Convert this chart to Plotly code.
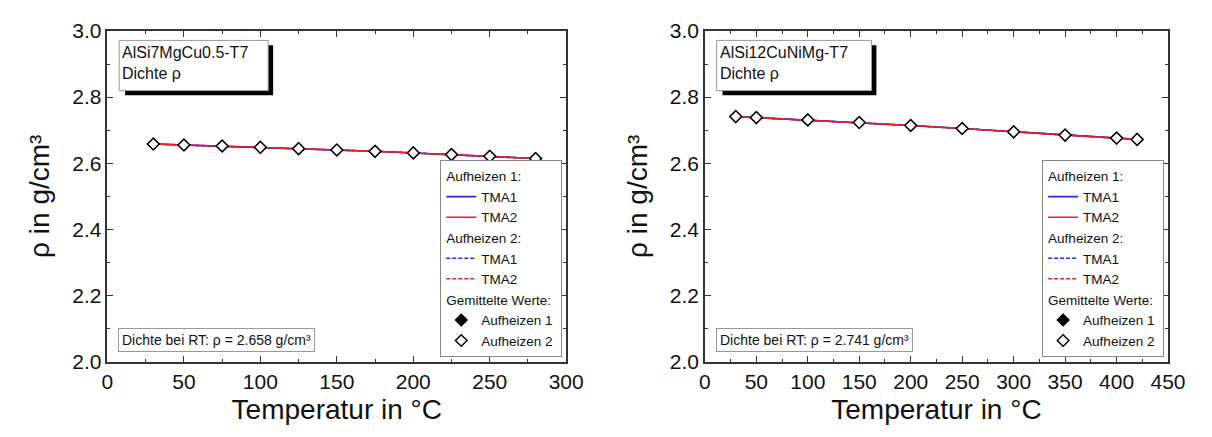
import plotly.graph_objects as go

# Temperature / density values, alloy AlSi7MgCu0.5-T7
temp_a = [30, 50, 75, 100, 125, 150, 175, 200, 225, 250, 280]
rho_a_tma1 = [2.658, 2.655, 2.652, 2.648, 2.644, 2.640, 2.636, 2.631, 2.626, 2.621, 2.614]
rho_a_tma2 = [2.658, 2.655, 2.652, 2.648, 2.644, 2.640, 2.636, 2.631, 2.626, 2.621, 2.614]
rho_a_mean = [2.658, 2.655, 2.652, 2.648, 2.644, 2.640, 2.636, 2.631, 2.626, 2.621, 2.614]

# Temperature / density values, alloy AlSi12CuNiMg-T7
temp_b = [30, 50, 100, 150, 200, 250, 300, 350, 400, 420]
rho_b_tma1 = [2.741, 2.738, 2.731, 2.723, 2.714, 2.705, 2.695, 2.685, 2.676, 2.672]
rho_b_tma2 = [2.741, 2.738, 2.731, 2.723, 2.714, 2.705, 2.695, 2.685, 2.676, 2.672]
rho_b_mean = [2.741, 2.738, 2.731, 2.723, 2.714, 2.705, 2.695, 2.685, 2.676, 2.672]

alloys = ["AlSi7MgCu0.5-T7", "AlSi12CuNiMg-T7"]
rho_rt = ["2.658", "2.741"]
x_max = [300, 450]

FONT = "Liberation Sans, Arial, sans-serif"
BLUE = "#2b2bd0"
RED = "#e8202a"

fig = go.Figure()


def add_panel(idx, temp, tma1, tma2, mean):
    xa = "x" if idx == 0 else "x2"
    ya = "y" if idx == 0 else "y2"
    lg = "legend" if idx == 0 else "legend2"
    common = dict(xaxis=xa, yaxis=ya, legend=lg)
    fig.add_trace(go.Scatter(x=temp, y=tma1, mode="lines", name="TMA1",
                             line=dict(color=BLUE, width=1.6),
                             legendgroup="a1", legendgrouptitle_text="Aufheizen 1:", **common))
    fig.add_trace(go.Scatter(x=temp, y=tma2, mode="lines", name="TMA2",
                             line=dict(color=RED, width=1.6),
                             legendgroup="a1", **common))
    fig.add_trace(go.Scatter(x=temp, y=tma1, mode="lines", name="TMA1",
                             line=dict(color=BLUE, width=1.5, dash="4px,2px"),
                             legendgroup="a2", legendgrouptitle_text="Aufheizen 2:", **common))
    fig.add_trace(go.Scatter(x=temp, y=tma2, mode="lines", name="TMA2",
                             line=dict(color=RED, width=1.5, dash="4px,2px"),
                             legendgroup="a2", **common))
    fig.add_trace(go.Scatter(x=temp, y=mean, mode="markers", name="Aufheizen 1",
                             marker=dict(symbol="diamond", size=9, color="black",
                                         line=dict(color="black", width=1.4)),
                             legendgroup="m", legendgrouptitle_text="Gemittelte Werte:", **common))
    fig.add_trace(go.Scatter(x=temp, y=mean, mode="markers", name="Aufheizen 2",
                             marker=dict(symbol="diamond", size=9, color="white",
                                         line=dict(color="black", width=1.4)),
                             legendgroup="m", **common))


add_panel(0, temp_a, rho_a_tma1, rho_a_tma2, rho_a_mean)
add_panel(1, temp_b, rho_b_tma1, rho_b_tma2, rho_b_mean)

W, H = 1212, 437
x_dom = [[103.5 / W, 571.5 / W], [713 / W, 1185.5 / W]]
y_dom = [1 - 369 / H, 1 - 20 / H]

axis_common = dict(
    showline=True, linecolor="#333333", linewidth=1.5, mirror="ticks",
    ticks="inside", ticklen=6, tickwidth=1.2, tickcolor="#333333",
    showgrid=False, zeroline=False,
    tickfont=dict(family=FONT, size=21, color="#111111"),
)

layout = dict(
    width=W, height=H,
    margin=dict(l=0, r=0, t=0, b=0),
    paper_bgcolor="white", plot_bgcolor="white",
    font=dict(family=FONT, color="#111111"),
    shapes=[], annotations=[],
)

for i in range(2):
    sx = "" if i == 0 else "2"
    layout["xaxis" + sx] = dict(
        axis_common, domain=x_dom[i], range=[0, x_max[i]], dtick=50,
        anchor="y" + sx,
        minor=dict(ticks="inside", ticklen=3, dtick=25, tickcolor="#333333"),
        title=dict(text="Temperatur in °C", font=dict(family=FONT, size=28), standoff=8),
    )
    layout["yaxis" + sx] = dict(
        axis_common, domain=y_dom, range=[2.0, 3.0], dtick=0.2, tickformat=".1f",
        anchor="x" + sx,
        minor=dict(ticks="inside", ticklen=3, dtick=0.1, tickcolor="#333333"),
        title=dict(text="ρ in g/cm³", font=dict(family=FONT, size=28), standoff=14),
    )
    layout["legend" + ("" if i == 0 else "2")] = dict(
        xref="paper", yref="paper",
        x=(x_dom[i][1] * W - 4) / W, xanchor="right",
        y=(H - 364) / H, yanchor="bottom",
        bgcolor="white", bordercolor="#888888", borderwidth=1,
        font=dict(family=FONT, size=13.5, color="#111111"),
        grouptitlefont=dict(family=FONT, size=13.5, color="#111111"),
        tracegroupgap=0, traceorder="grouped",
        itemwidth=30,
    )

    px0 = x_dom[i][0] * W
    # alloy label with drop shadow
    bx0, by0, bx1, by1 = px0 + 12, 30, px0 + 164 + (6 if i else 0), 83
    layout["shapes"].append(dict(type="rect", xref="paper", yref="paper",
                                 x0=(bx0 + 6) / W, x1=(bx1 + 5) / W,
                                 y0=1 - (by1 + 5) / H, y1=1 - (by0 + 5) / H,
                                 fillcolor="black", line=dict(width=0), layer="above"))
    layout["shapes"].append(dict(type="rect", xref="paper", yref="paper",
                                 x0=bx0 / W, x1=bx1 / W, y0=1 - by1 / H, y1=1 - by0 / H,
                                 fillcolor="white", line=dict(color="#999999", width=1),
                                 layer="above"))
    layout["annotations"].append(dict(
        xref="paper", yref="paper", x=(bx0 + 1) / W, y=1 - (by0 + 2) / H,
        xanchor="left", yanchor="top", align="left", showarrow=False,
        text=alloys[i] + "<br>Dichte ρ",
        font=dict(family=FONT, size=16, color="#111111"),
    ))
    # room-temperature density note
    layout["annotations"].append(dict(
        xref="paper", yref="paper", x=(px0 + 11) / W, y=1 - 359 / H,
        xanchor="left", yanchor="bottom", showarrow=False,
        text="Dichte bei RT: ρ = " + rho_rt[i] + " g/cm³",
        font=dict(family=FONT, size=14, color="#111111"),
        bgcolor="white", bordercolor="#999999", borderwidth=1, borderpad=3,
    ))

fig.update_layout(**layout)
fig.write_html("out.html")
